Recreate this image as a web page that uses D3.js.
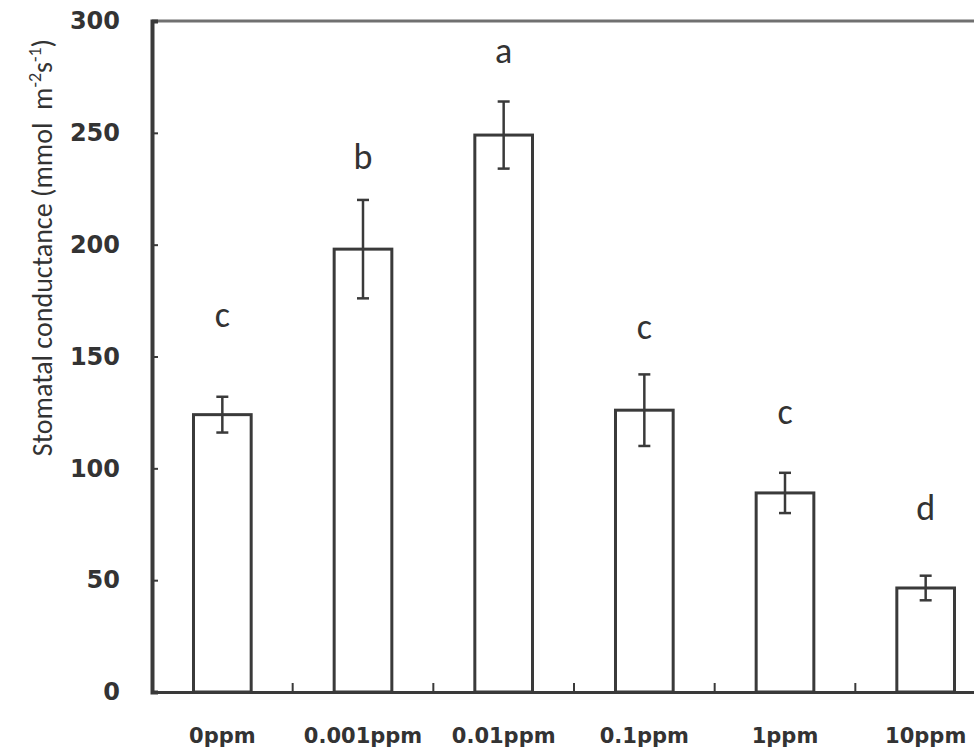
<!DOCTYPE html>
<html>
<head>
<meta charset="utf-8">
<script src="https://cdn.jsdelivr.net/npm/d3@7"></script>
<style>
  body { margin: 0; background: #fff; }
  svg { display: block; }
</style>
</head>
<body>
<div id="chart"></div>
<script>
// data
var treatments = ["0ppm", "0.001ppm", "0.01ppm", "0.1ppm", "1ppm", "10ppm"];
var meanValues = [124, 198, 249, 126, 89, 46.5];
var errValues  = [8, 22, 15, 16, 9, 5.5];
var letters    = ["c", "b", "a", "c", "c", "d"];
var letterPos  = [163, 234, 281, 158, 120, 77];   // baseline of letters, in data units
var yTicks     = [0, 50, 100, 150, 200, 250, 300];

var W = 974, H = 752;
var margin = {top: 21, right: -22, bottom: 60, left: 152},
  width = W - margin.left - margin.right,
  height = H - margin.top - margin.bottom;

var svg = d3.select("#chart")
.append("svg")
  .attr("width", W)
  .attr("height", H)
.append("g")
  .attr("transform", "translate(" + margin.left + "," + margin.top + ")");

var x = d3.scaleBand()
  .domain(treatments)
  .range([0, width])
  .paddingInner(0)
  .paddingOuter(0);

var y = d3.scaleLinear()
  .domain([0, 300])
  .range([height, 0]);

var barW = x.bandwidth() * 0.41;
var ink = "#3a3a3a";

// top frame line
svg.append("line")
  .attr("x1", 0).attr("x2", width + 10)
  .attr("y1", 0).attr("y2", 0)
  .style("stroke", "#707070")
  .style("stroke-width", 3);

// bars
svg.selectAll(".bar")
  .data(meanValues)
  .enter()
  .append("rect")
    .attr("class", "bar")
    .attr("x", function(d, i) { return x(treatments[i]) + x.bandwidth() / 2 - barW / 2; })
    .attr("y", function(d) { return y(d); })
    .attr("width", barW)
    .attr("height", function(d) { return height - y(d); })
    .style("fill", "#fff")
    .style("stroke", ink)
    .style("stroke-width", 3);

// error bars
var eb = svg.selectAll(".err")
  .data(meanValues)
  .enter()
  .append("g")
    .attr("class", "err")
    .attr("transform", function(d, i) { return "translate(" + (x(treatments[i]) + x.bandwidth() / 2) + ",0)"; });

eb.append("line")
  .attr("y1", function(d, i) { return y(d + errValues[i]); })
  .attr("y2", function(d, i) { return y(d - errValues[i]); })
  .style("stroke", ink).style("stroke-width", 2.5);
eb.append("line")
  .attr("x1", -6).attr("x2", 6)
  .attr("y1", function(d, i) { return y(d + errValues[i]); })
  .attr("y2", function(d, i) { return y(d + errValues[i]); })
  .style("stroke", ink).style("stroke-width", 2.5);
eb.append("line")
  .attr("x1", -6).attr("x2", 6)
  .attr("y1", function(d, i) { return y(d - errValues[i]); })
  .attr("y2", function(d, i) { return y(d - errValues[i]); })
  .style("stroke", ink).style("stroke-width", 2.5);

// significance letters
svg.selectAll(".letter")
  .data(letters)
  .enter()
  .append("text")
    .attr("class", "letter")
    .attr("x", function(d, i) { return x(treatments[i]) + x.bandwidth() / 2; })
    .attr("y", function(d, i) { return y(letterPos[i]); })
    .attr("text-anchor", "middle")
    .style("font-family", "Carlito, 'Open Sans', sans-serif")
    .style("font-size", "36px")
    .style("fill", "#333")
    .text(function(d) { return d; });

// y axis
var yAxis = svg.append("g")
  .call(d3.axisLeft(y).tickValues(yTicks).tickSize(-6).tickPadding(32));
yAxis.select(".domain").style("stroke", ink).style("stroke-width", 4);
yAxis.selectAll(".tick line").style("stroke", ink).style("stroke-width", 2);
yAxis.selectAll(".tick text")
  .style("font-family", "'DejaVu Sans', sans-serif")
  .style("font-weight", "bold")
  .style("font-size", "24px")
  .style("fill", "#333");

// x axis
var xAxis = svg.append("g")
  .attr("transform", "translate(0," + height + ")")
  .call(d3.axisBottom(x).tickSize(0).tickPadding(36));
xAxis.select(".domain").style("stroke", ink).style("stroke-width", 3);
xAxis.selectAll(".tick text")
  .style("font-family", "'DejaVu Sans', sans-serif")
  .style("font-weight", "bold")
  .style("font-size", "21px")
  .style("fill", "#333");

// small inner ticks on the x axis between groups
svg.selectAll(".xsep")
  .data(treatments.slice(1))
  .enter()
  .append("line")
    .attr("class", "xsep")
    .attr("x1", function(d) { return x(d); })
    .attr("x2", function(d) { return x(d); })
    .attr("y1", height)
    .attr("y2", height - 9)
    .style("stroke", ink)
    .style("stroke-width", 2);

// y axis title
svg.append("text")
  .attr("transform", "translate(" + (-100) + "," + (y(150) - 109) + ") rotate(-90)")
  .attr("text-anchor", "middle")
  .style("font-family", "Carlito, 'Open Sans', sans-serif")
  .style("font-size", "28px")
  .style("fill", "#333")
  .text("Stomatal conductance (mmol\u00a0\u00a0m")
  .append("tspan").attr("baseline-shift", "super").style("font-size", "18px").text("-2")
  .select(function() { return this.parentNode; })
  .append("tspan").text("s")
  .select(function() { return this.parentNode; })
  .append("tspan").attr("baseline-shift", "super").style("font-size", "18px").text("-1")
  .select(function() { return this.parentNode; })
  .append("tspan").text(")");
</script>
</body>
</html>
